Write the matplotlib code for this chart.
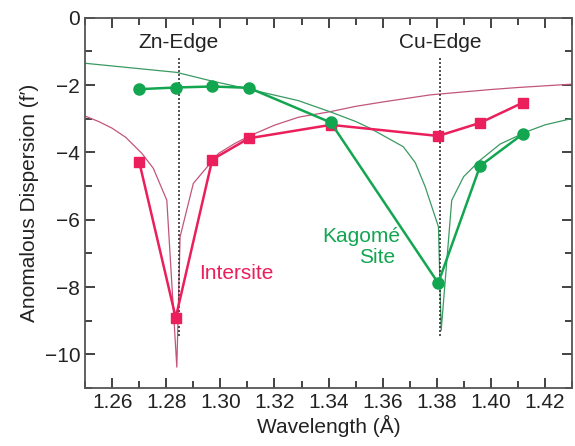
import numpy as np
import matplotlib
matplotlib.use("Agg")
import matplotlib.pyplot as plt
from matplotlib.ticker import MultipleLocator

plt.rcParams['font.family'] = ['Liberation Sans', 'DejaVu Sans']

# measured points
wl = [1.270, 1.2835, 1.297, 1.3105, 1.3408, 1.3805, 1.396, 1.4118]
kagome = [-2.12, -2.07, -2.04, -2.08, -3.11, -7.88, -4.40, -3.45]
intersite = [-4.28, -8.91, -4.21, -3.58, -3.18, -3.51, -3.12, -2.52]

# theoretical f' curves (Zn and Cu)
zn_x = [1.25, 1.255, 1.26, 1.265, 1.271, 1.2752, 1.2802, 1.2839, 1.2851, 1.290,
        1.2993, 1.3054, 1.311, 1.32, 1.329, 1.3405, 1.35, 1.36, 1.37, 1.3775,
        1.39, 1.40, 1.41, 1.42, 1.43]
zn_y = [-2.92, -3.08, -3.28, -3.55, -4.03, -4.47, -5.42, -10.38, -6.51, -4.92,
        -4.03, -3.73, -3.50, -3.19, -2.95, -2.79, -2.63, -2.50, -2.38, -2.29,
        -2.20, -2.13, -2.07, -2.02, -1.97]
cu_x = [1.25, 1.26, 1.27, 1.2838, 1.2969, 1.305, 1.3159, 1.3288, 1.3405, 1.35,
        1.3553, 1.3676, 1.372, 1.3757, 1.3806, 1.3816, 1.3855, 1.3899, 1.396,
        1.4034, 1.4133, 1.42, 1.43]
cu_y = [-1.35, -1.43, -1.51, -1.62, -1.88, -2.02, -2.22, -2.46, -2.79, -3.08,
        -3.28, -3.83, -4.3, -5.02, -6.21, -9.29, -5.42, -4.72, -4.23,
        -3.75, -3.38, -3.18, -2.99]

edges = [1.2846, 1.3813]
edge_names = ['Zn-Edge', 'Cu-Edge']

red = '#ea1f5b'
green = '#13a651'

fig = plt.figure(figsize=(5.75, 4.46), dpi=100)
ax = fig.add_axes([0.148, 0.130, 0.847, 0.830])

ax.plot(zn_x, zn_y, color='#c2557c', lw=0.9)
ax.plot(cu_x, cu_y, color='#3a9a62', lw=0.9)

for e in edges:
    ax.plot([e, e], [-1.2, -9.52], color='#333333', lw=1.2, ls=(0, (1.2, 1.2)))

ax.plot(wl, intersite, color=red, lw=1.8, marker='s', ms=7)
ax.plot(wl, kagome, color=green, lw=1.8, marker='o', ms=8)

for e, name in zip(edges, edge_names):
    ax.text(e, -0.72, name, ha='center', va='center', fontsize=15, color='#222222')
ax.text(1.2922, -7.6, 'Intersite', ha='left', va='center', fontsize=15, color=red)
ax.text(1.352, -6.49, 'Kagomé', ha='center', va='center', fontsize=15, color=green)
ax.text(1.3578, -7.12, 'Site', ha='center', va='center', fontsize=15, color=green)

ax.set_xlim(1.25, 1.43)
ax.set_ylim(-11, 0)
ax.xaxis.set_minor_locator(MultipleLocator(0.01))
ax.yaxis.set_major_locator(MultipleLocator(2))
ax.yaxis.set_minor_locator(MultipleLocator(1))
ax.set_xticks(np.arange(1.26, 1.4201, 0.02))
ax.set_xticklabels(['1.26', '1.28', '1.30', '1.32', '1.34', '1.36', '1.38', '1.40', '1.42'])
ax.tick_params(which='both', direction='in', top=True, right=True, labelsize=15,
               colors='#222222', width=1.2)
ax.tick_params(which='major', length=7)
ax.tick_params(which='minor', length=5)
for s in ax.spines.values():
    s.set_color('#555555')
    s.set_linewidth(1.3)

ax.set_xlabel('Wavelength (Å)', fontsize=15, color='#222222', labelpad=2)
ax.set_ylabel('Anomalous Dispersion (f′)', fontsize=15, color='#222222', labelpad=4)

fig.savefig('out.png', dpi=100)
